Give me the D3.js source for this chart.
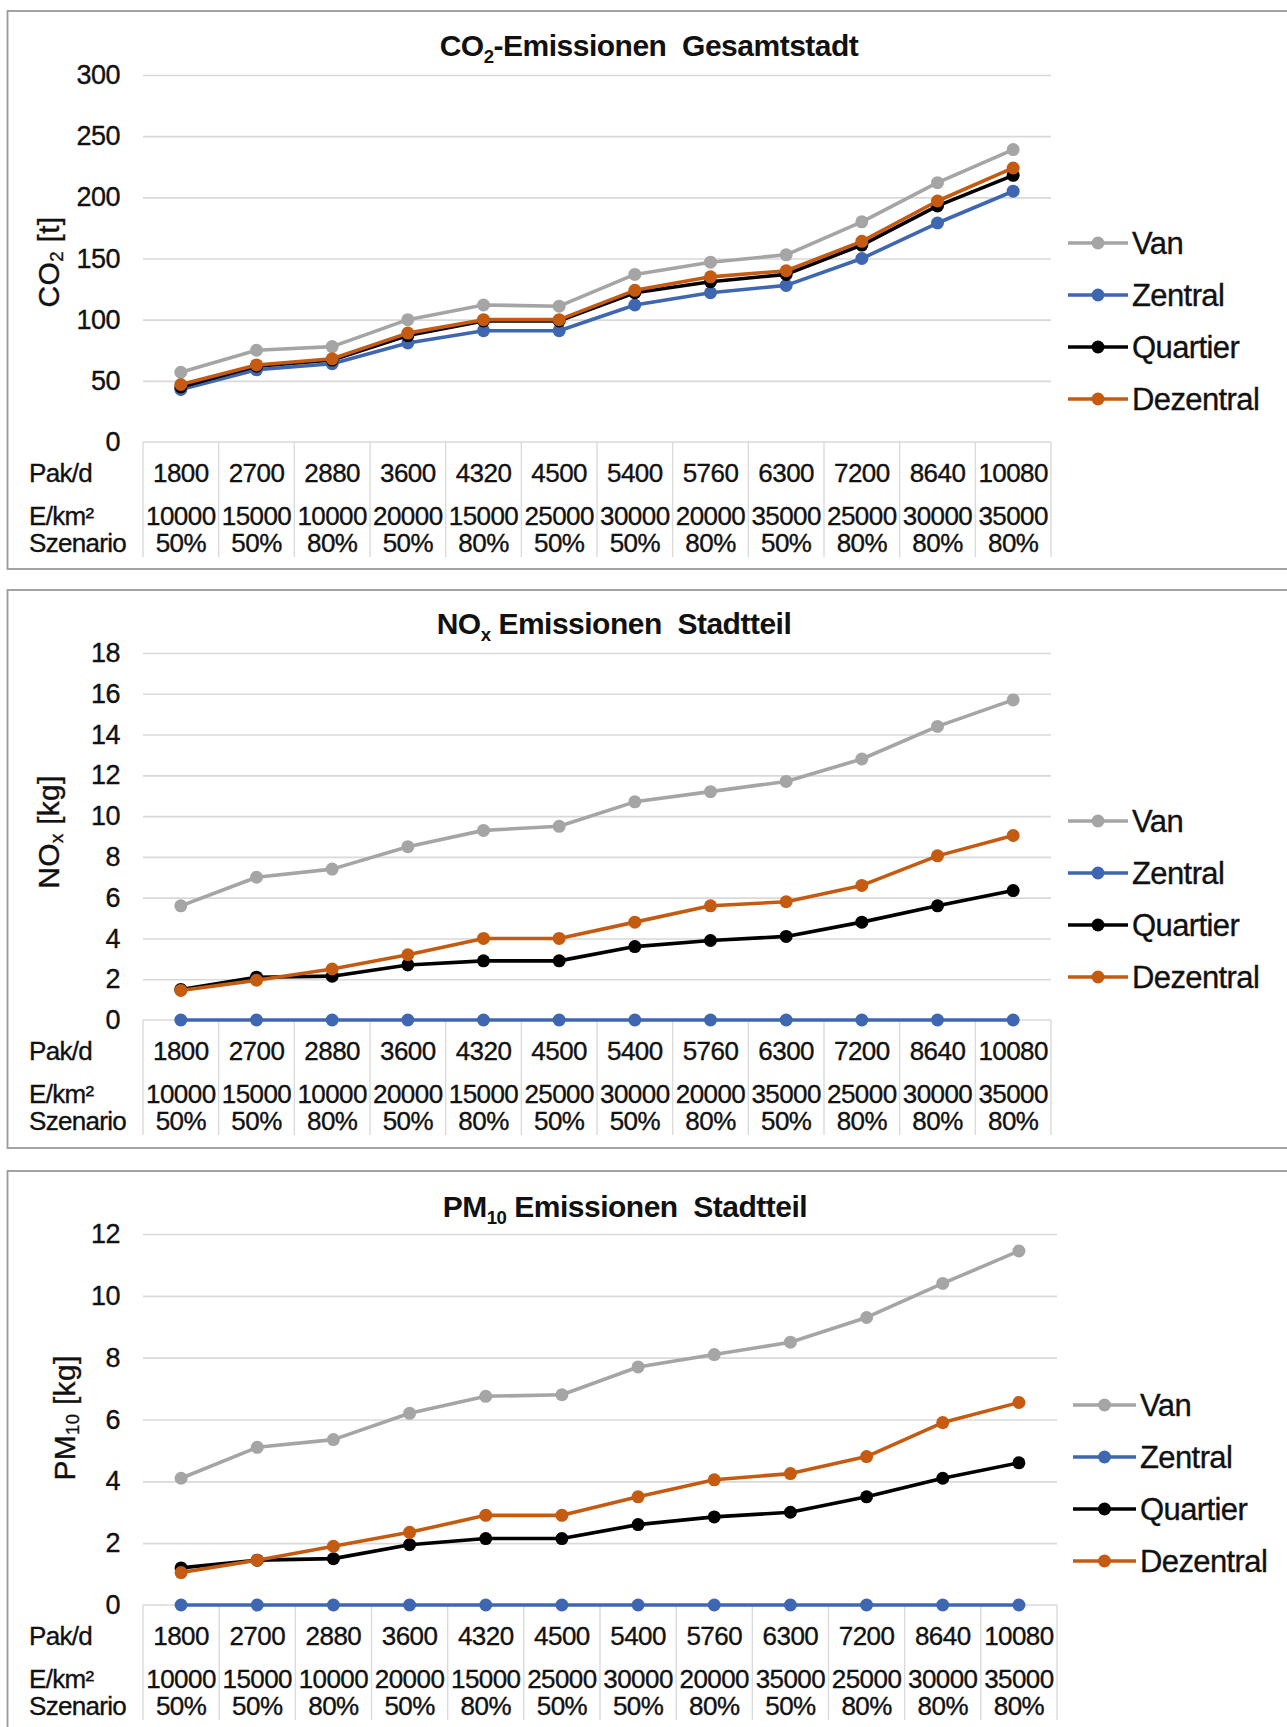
<!DOCTYPE html>
<html>
<head>
<meta charset="utf-8">
<script src="https://cdn.jsdelivr.net/npm/d3@7"></script>
<style>
  html, body { margin: 0; padding: 0; background: #fff; }
  svg { display: block; font-family: "Liberation Sans", Arial, sans-serif; }
  text { white-space: pre; }
</style>
</head>
<body>
<svg id="chart" width="1287" height="1727"></svg>
<script>
// Scenario table shown under every chart
const pakD = ["1800","2700","2880","3600","4320","4500","5400","5760","6300","7200","8640","10080"];
const eKm2 = ["10000","15000","10000","20000","15000","25000","30000","20000","35000","25000","30000","35000"];
const szenario = ["50%","50%","80%","50%","80%","50%","50%","80%","50%","80%","80%","80%"];
const rowLabels = ["Pak/d", "E/km²", "Szenario"];

const seriesNames = ["Van", "Zentral", "Quartier", "Dezentral"];
const seriesColors = ["#A5A5A5", "#3F67B1", "#000000", "#C55A11"];

// CO2 emissions, whole city [t]
const co2Van       = [57, 75, 78, 100, 112, 111, 137, 147, 153, 180, 212, 239];
const co2Zentral   = [43, 59, 64, 81, 91, 91, 112, 122, 128, 150, 179, 205];
const co2Quartier  = [45, 62, 67, 87, 99, 99, 122, 131, 137, 161, 193, 218];
const co2Dezentral = [47, 63, 68, 89, 100, 100, 124, 135, 140, 164, 197, 224];
const co2Ticks = [0, 50, 100, 150, 200, 250, 300];

// NOx emissions, district [kg]
const noxVan       = [5.6, 7.0, 7.4, 8.5, 9.3, 9.5, 10.7, 11.2, 11.7, 12.8, 14.4, 15.7];
const noxZentral   = [0, 0, 0, 0, 0, 0, 0, 0, 0, 0, 0, 0];
const noxQuartier  = [1.5, 2.1, 2.15, 2.7, 2.9, 2.9, 3.6, 3.9, 4.1, 4.8, 5.6, 6.35];
const noxDezentral = [1.45, 1.95, 2.5, 3.2, 4.0, 4.0, 4.8, 5.6, 5.8, 6.6, 8.05, 9.05];
const noxTicks = [0, 2, 4, 6, 8, 10, 12, 14, 16, 18];

// PM10 emissions, district [kg]
const pmVan       = [4.1, 5.1, 5.35, 6.2, 6.75, 6.8, 7.7, 8.1, 8.5, 9.3, 10.4, 11.45];
const pmZentral   = [0, 0, 0, 0, 0, 0, 0, 0, 0, 0, 0, 0];
const pmQuartier  = [1.2, 1.45, 1.5, 1.95, 2.15, 2.15, 2.6, 2.85, 3.0, 3.5, 4.1, 4.6];
const pmDezentral = [1.05, 1.45, 1.9, 2.35, 2.9, 2.9, 3.5, 4.05, 4.25, 4.8, 5.9, 6.55];
const pmTicks = [0, 2, 4, 6, 8, 10, 12];

const svg = d3.select("#chart");
const FONT = "Liberation Sans, Arial, sans-serif";
const INK = "#111";

const panels = [
  {
    title: [["CO", 0], ["2", 1], ["-Emissionen  Gesamtstadt", 0]],
    yTitle: [["CO", 0], ["2", 1], [" [t]", 0]],
    series: [co2Van, co2Zentral, co2Quartier, co2Dezentral],
    ticks: co2Ticks,
    box: { top: 11, bottom: 569 },
    y: [442, 75], x: [143, 1051],
    titlePos: [649, 46], yTitlePos: [51, 262],
    legend: { y: 243, dy: 52, x0: 1068, x1: 1128, tx: 1132 }
  },
  {
    title: [["NO", 0], ["x", 1], [" Emissionen  Stadtteil", 0]],
    yTitle: [["NO", 0], ["x", 1], [" [kg]", 0]],
    series: [noxVan, noxZentral, noxQuartier, noxDezentral],
    ticks: noxTicks,
    box: { top: 590, bottom: 1148 },
    y: [1020, 653], x: [143, 1051],
    titlePos: [614, 624], yTitlePos: [51, 832],
    legend: { y: 821, dy: 52, x0: 1068, x1: 1128, tx: 1132 }
  },
  {
    title: [["PM", 0], ["10", 1], [" Emissionen  Stadtteil", 0]],
    yTitle: [["PM", 0], ["10", 1], [" [kg]", 0]],
    series: [pmVan, pmZentral, pmQuartier, pmDezentral],
    ticks: pmTicks,
    box: { top: 1171, bottom: 1760 },
    y: [1605, 1234], x: [143, 1057],
    titlePos: [625, 1207], yTitlePos: [67, 1418],
    legend: { y: 1405, dy: 52, x0: 1073, x1: 1136, tx: 1140 }
  }
];

// text with subscripted parts
function richText(sel, parts, subShift) {
  parts.forEach(([t, sub], i) => {
    const prevSub = i > 0 && parts[i - 1][1];
    sel.append("tspan")
      .attr("dy", sub ? subShift : (prevSub ? -subShift : 0))
      .attr("font-size", sub ? "0.62em" : null)
      .text(t);
  });
}

// slightly heavier glyphs for regular text
function ink(sel, w) {
  return sel.attr("fill", INK).attr("stroke", INK).attr("stroke-width", w).attr("paint-order", "stroke");
}

panels.forEach(p => {
  const g = svg.append("g");

  // chart frame
  g.append("rect")
    .attr("x", 7.5).attr("y", p.box.top)
    .attr("width", 1300).attr("height", p.box.bottom - p.box.top)
    .attr("fill", "#fff").attr("stroke", "#9A9A9A").attr("stroke-width", 1.8);

  const x = d3.scaleBand().domain(pakD).range(p.x).padding(0);
  const y = d3.scaleLinear().domain([0, d3.max(p.ticks)]).range(p.y);
  const zeroY = y(0);

  // gridlines
  g.append("g")
    .attr("transform", `translate(${p.x[0]},0)`)
    .call(d3.axisLeft(y).tickValues(p.ticks.filter(t => t > 0)).tickSize(-(p.x[1] - p.x[0])).tickFormat(""))
    .call(a => a.select(".domain").remove())
    .call(a => a.selectAll("line").attr("stroke", "#D9D9D9").attr("stroke-width", 1.6));

  // y tick labels
  g.append("g")
    .attr("transform", `translate(120,0)`)
    .call(d3.axisLeft(y).tickValues(p.ticks).tickSize(0).tickPadding(0))
    .call(a => a.select(".domain").remove())
    .call(a => ink(a.selectAll("text")
      .attr("font-size", 27).attr("letter-spacing", -0.5).attr("font-family", FONT), 0.35));

  // y axis title
  const yt = ink(g.append("text")
    .attr("transform", `translate(${p.yTitlePos[0]},${p.yTitlePos[1]}) rotate(-90)`)
    .attr("text-anchor", "middle").attr("dominant-baseline", "middle")
    .attr("font-size", 30).attr("letter-spacing", 0.3), 0.35);
  richText(yt, p.yTitle, 7);

  // chart title
  const tt = g.append("text")
    .attr("x", p.titlePos[0]).attr("y", p.titlePos[1] + 10)
    .attr("text-anchor", "middle")
    .attr("font-size", 30).attr("font-weight", "bold").attr("fill", INK)
    .attr("letter-spacing", -0.5);
  richText(tt, p.title, 7);

  // data table below the x axis
  const tableBottom = Math.min(zeroY + 115, 1727);
  g.append("line")
    .attr("x1", p.x[0]).attr("x2", p.x[1]).attr("y1", zeroY).attr("y2", zeroY)
    .attr("stroke", "#D9D9D9").attr("stroke-width", 1.6);
  g.append("g").selectAll("line")
    .data(pakD.concat(["end"]))
    .join("line")
    .attr("x1", d => d === "end" ? p.x[1] : x(d))
    .attr("x2", d => d === "end" ? p.x[1] : x(d))
    .attr("y1", zeroY).attr("y2", tableBottom)
    .attr("stroke", "#DADADA").attr("stroke-width", 1.4);

  const rowOffsets = [31, 74, 101];
  const rowData = [pakD, eKm2, szenario];
  rowData.forEach((vals, r) => {
    g.append("g")
      .attr("transform", `translate(0,${zeroY + rowOffsets[r]})`)
      .call(d3.axisBottom(x).tickSize(0).tickPadding(0).tickFormat((d, i) => vals[i]))
      .call(a => a.select(".domain").remove())
      .call(a => ink(a.selectAll("text")
        .attr("dy", "0.35em").attr("y", 0)
        .attr("font-size", 26)
        .attr("letter-spacing", -0.55)
        .attr("font-family", FONT), 0.35));
    ink(g.append("text")
      .attr("x", 29).attr("y", zeroY + rowOffsets[r]).attr("dy", "0.35em")
      .attr("font-size", 26).attr("letter-spacing", -0.7)
      .text(rowLabels[r]), 0.35);
  });

  // series lines and markers
  const line = d3.line().x((d, i) => x(pakD[i]) + x.bandwidth() / 2).y(d => y(d));
  p.series.forEach((vals, s) => {
    g.append("path")
      .attr("d", line(vals))
      .attr("fill", "none").attr("stroke", seriesColors[s])
      .attr("stroke-width", 3.6).attr("stroke-linejoin", "round");
    g.append("g").selectAll("circle")
      .data(vals)
      .join("circle")
      .attr("cx", (d, i) => x(pakD[i]) + x.bandwidth() / 2)
      .attr("cy", d => y(d))
      .attr("r", 6.5)
      .attr("fill", seriesColors[s]);
  });

  // legend
  seriesNames.forEach((name, s) => {
    const ly = p.legend.y + s * p.legend.dy;
    g.append("line")
      .attr("x1", p.legend.x0).attr("x2", p.legend.x1).attr("y1", ly).attr("y2", ly)
      .attr("stroke", seriesColors[s]).attr("stroke-width", 3.6);
    g.append("circle")
      .attr("cx", (p.legend.x0 + p.legend.x1) / 2).attr("cy", ly).attr("r", 6.5)
      .attr("fill", seriesColors[s]);
    ink(g.append("text")
      .attr("x", p.legend.tx).attr("y", ly).attr("dy", "0.36em")
      .attr("font-size", 31).attr("letter-spacing", -0.6)
      .text(name), 0.35);
  });
});
</script>
</body>
</html>
